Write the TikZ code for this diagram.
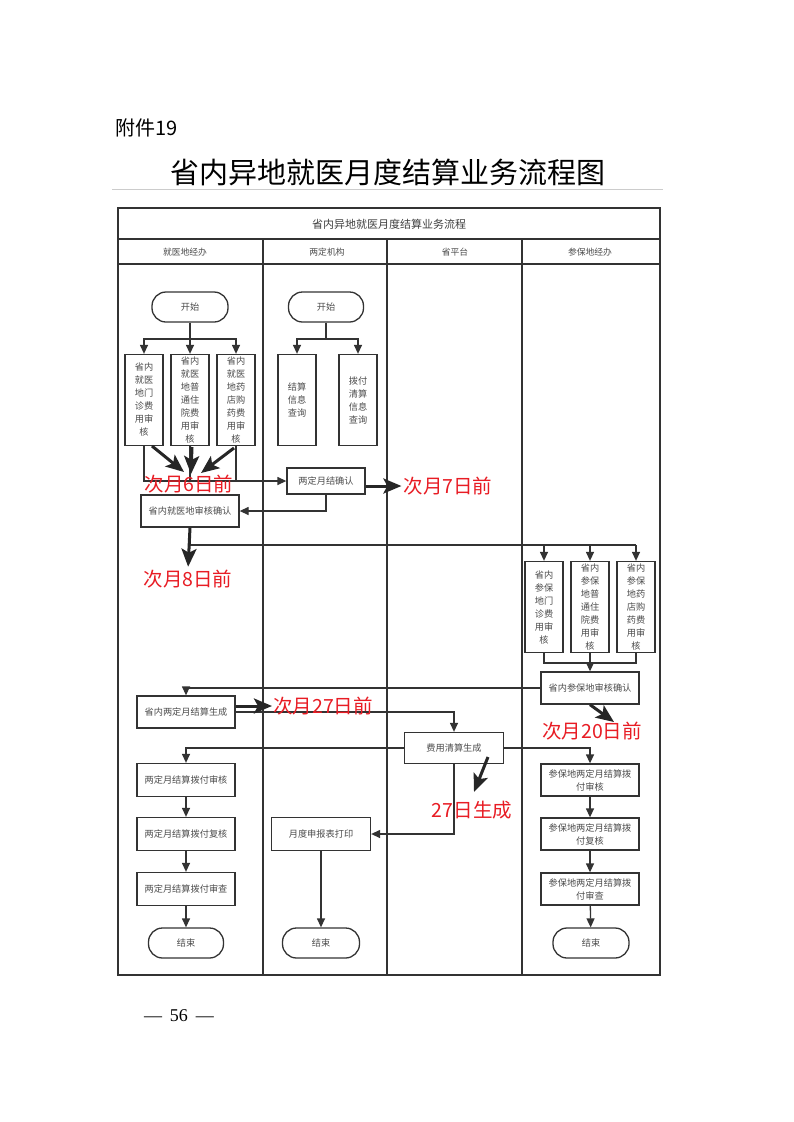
\documentclass[tikz,border=0pt]{standalone}
\usepackage{fontspec}
\newfontfamily\cjk{Noto Sans CJK SC}
\newfontfamily\serifnum{Liberation Serif}
\usetikzlibrary{arrows.meta}
\definecolor{redc}{RGB}{232,28,36}
\begin{document}
\begin{tikzpicture}[x=1pt,y=-1pt,
 ln/.style={draw=black!80, line width=1.3pt},
 lnk/.style={ln, -{Triangle[length=9pt,width=8pt]}},
 fat/.style={draw=black!85, line width=3pt, -{Stealth[length=18pt,width=15pt,inset=4pt]}},
 bx/.style={draw=black!80, line width=1.3pt, fill=white, text=black!70, font=\cjk\fontsize{9.2}{13}\selectfont, inner sep=0pt, align=center, minimum width=98pt, minimum height=32pt},
 vbx/.style={bx, minimum width=38pt, minimum height=91pt},
 term/.style={bx, rounded corners=14pt, minimum width=75pt, minimum height=30pt},
 rtext/.style={text=redc, font=\cjk\fontsize{19.5}{20}\selectfont, inner sep=0pt},
 lane/.style={text=black!70, font=\cjk\fontsize{8.8}{10}\selectfont, inner sep=0pt},
 tbl/.style={draw=black!80, line width=1.5pt}]
\fill[white] (0,0) rectangle (793,1122);
\useasboundingbox (0,0) rectangle (793,1122);

% heading
\node[anchor=west, inner sep=0pt, font=\cjk\fontsize{20}{20}\selectfont] (att) at (115,128) {附件19};
\node[inner sep=0pt, font=\cjk\fontsize{29}{30}\selectfont] (title) at (388,172) {省内异地就医月度结算业务流程图};
\draw[black!20, line width=0.8pt] (112,189) -- (663,189);

% table
\draw[tbl] (118,208) rectangle (660,975);
\draw[tbl] (118,239) -- (660,239);
\draw[tbl] (118,264) -- (660,264);
\draw[tbl] (263,239) -- (263,975);
\draw[tbl] (387,239) -- (387,975);
\draw[tbl] (522,239) -- (522,975);
\node[text=black!75, inner sep=0pt, font=\cjk\fontsize{11}{12}\selectfont] (hdr) at (389,224) {省内异地就医月度结算业务流程};
\node[lane] (l1) at (185,252) {就医地经办};
\node[lane] (l2) at (327,252) {两定机构};
\node[lane] (l3) at (455,252) {省平台};
\node[lane] (l4) at (590,252) {参保地经办};

% lane 1 top
\node[term, minimum width=76pt] (s1) at (190,307) {开始};
\node[vbx] (j1) at (144,400) {省内\\就医\\地门\\诊费\\用审\\核};
\node[vbx] (j2) at (190,400) {省内\\就医\\地普\\通住\\院费\\用审\\核};
\node[vbx] (j3) at (236,400) {省内\\就医\\地药\\店购\\药费\\用审\\核};
\coordinate (b1) at (190,339);
\draw[ln] (s1) -- (b1);
\draw[lnk] (b1) -| (j1);
\draw[lnk] (b1) -- (j2);
\draw[lnk] (b1) -| (j3);

% lane 2 top
\node[term] (s2) at (326,307) {开始};
\node[vbx] (q1) at (297,400) {结算\\信息\\查询};
\node[vbx] (q2) at (358,400) {拨付\\清算\\信息\\查询};
\coordinate (b4) at (326,339);
\draw[ln] (s2) -- (b4);
\draw[lnk] (b4) -| (q1);
\draw[lnk] (b4) -| (q2);

% confirmations
\node[bx, minimum width=78pt, minimum height=26pt] (lq) at (326,481) {两定月结确认};
\node[bx] (jq) at (190,511) {省内就医地审核确认};
\draw[lnk] (j1.south) |- (lq.west);
\draw[ln] (j2.south) -- (j2.south |- lq.west);
\draw[ln] (j3.south) -- (j3.south |- lq.west);
\draw[lnk] (lq.south) |- (jq.east);

% lane 4 top
\node[vbx] (cA) at (544,607) {省内\\参保\\地门\\诊费\\用审\\核};
\node[vbx] (cB) at (590,607) {省内\\参保\\地普\\通住\\院费\\用审\\核};
\node[vbx] (cC) at (636,607) {省内\\参保\\地药\\店购\\药费\\用审\\核};
\coordinate (b2) at (190,545);
\coordinate (b2r) at (636,545);
\draw[ln] (jq.south) -- (b2) -- (b2r);
\draw[lnk] (b2r) -- (cC);
\draw[lnk] (b2 -| cA) -- (cA);
\draw[lnk] (b2 -| cB) -- (cB);
\node[bx] (cq) at (590,688) {省内参保地审核确认};
\coordinate (b3) at (590,663);
\draw[ln] (cA.south) |- (b3) -| (cC.south);
\draw[ln] (cB.south) -- (b3);
\draw[lnk] (b3) -- (cq);

% settlement
\node[bx] (sq) at (186,712) {省内两定月结算生成};
\node[bx, minimum width=99pt, minimum height=31pt] (fq) at (454,748) {费用清算生成};
\draw[lnk] (cq.west) -| (sq.north);
\draw[lnk] (sq.east) -| (fq.north);

% lane 1 bottom
\node[bx, minimum height=33pt] (a1) at (186,780) {两定月结算拨付审核};
\node[bx, minimum height=33pt] (a2) at (186,834) {两定月结算拨付复核};
\node[bx, minimum height=33pt] (a3) at (186,889) {两定月结算拨付审查};
\node[term] (e1) at (186,943) {结束};
\draw[lnk] (fq.west) -| (a1.north);
\draw[lnk] (a1) -- (a2);
\draw[lnk] (a2) -- (a3);
\draw[lnk] (a3) -- (e1);

% lane 2 bottom
\node[bx, minimum width=99pt, minimum height=33pt] (md) at (321,834) {月度申报表打印};
\node[term, minimum width=77pt] (e2) at (321,943) {结束};
\draw[lnk] (fq.south) |- (md.east);
\draw[lnk] (md) -- (e2);

% lane 4 bottom
\node[bx] (p1) at (590,780) {参保地两定月结算拨\\付审核};
\node[bx] (p2) at (590,834) {参保地两定月结算拨\\付复核};
\node[bx] (p3) at (590,889) {参保地两定月结算拨\\付审查};
\node[term, minimum width=76pt] (e4) at (591,943) {结束};
\draw[lnk] (fq.east) -| (p1.north);
\draw[lnk] (p1) -- (p2);
\draw[lnk] (p2) -- (p3);
\draw[lnk] (p3) -- (e4);

% red notes
\node[rtext] (r6) at (189,484) {次月6日前};
\node[rtext] (r7) at (448,486) {次月7日前};
\node[rtext] (r8) at (188,579) {次月8日前};
\node[rtext] (r27) at (323,706) {次月27日前};
\node[rtext] (r20) at (592,731) {次月20日前};
\node[rtext] (r27s) at (472,810) {27日生成};

% fat note arrows
\coordinate (f1) at (152,446);
\coordinate (t1) at (184,472);
\coordinate (f2) at (192,447);
\coordinate (t2) at (191,474);
\coordinate (f3) at (234,448);
\coordinate (t3) at (201,473);
\draw[fat] (f1) -- (t1);
\draw[fat] (f2) -- (t2);
\draw[fat] (f3) -- (t3);
\draw[fat, shorten >=2pt] (lq.east |- r7.west) -- (r7.west);
\draw[fat, shorten >=3pt] (jq.south) -- (r8.north);
\draw[fat, shorten >=1pt] (sq.east |- r27.west) -- (r27.west);
\coordinate (t20) at (614,722);
\draw[fat] (cq.south) -- (t20);
\coordinate (f27) at (488,757);
\coordinate (t27) at (474,792);
\draw[fat] (f27) -- (t27);

% page number
\node[inner sep=0pt, font=\serifnum\fontsize{18}{18}\selectfont] (pg) at (179,1016) {—\hspace{8pt}56\hspace{8pt}—};
\end{tikzpicture}
\end{document}
